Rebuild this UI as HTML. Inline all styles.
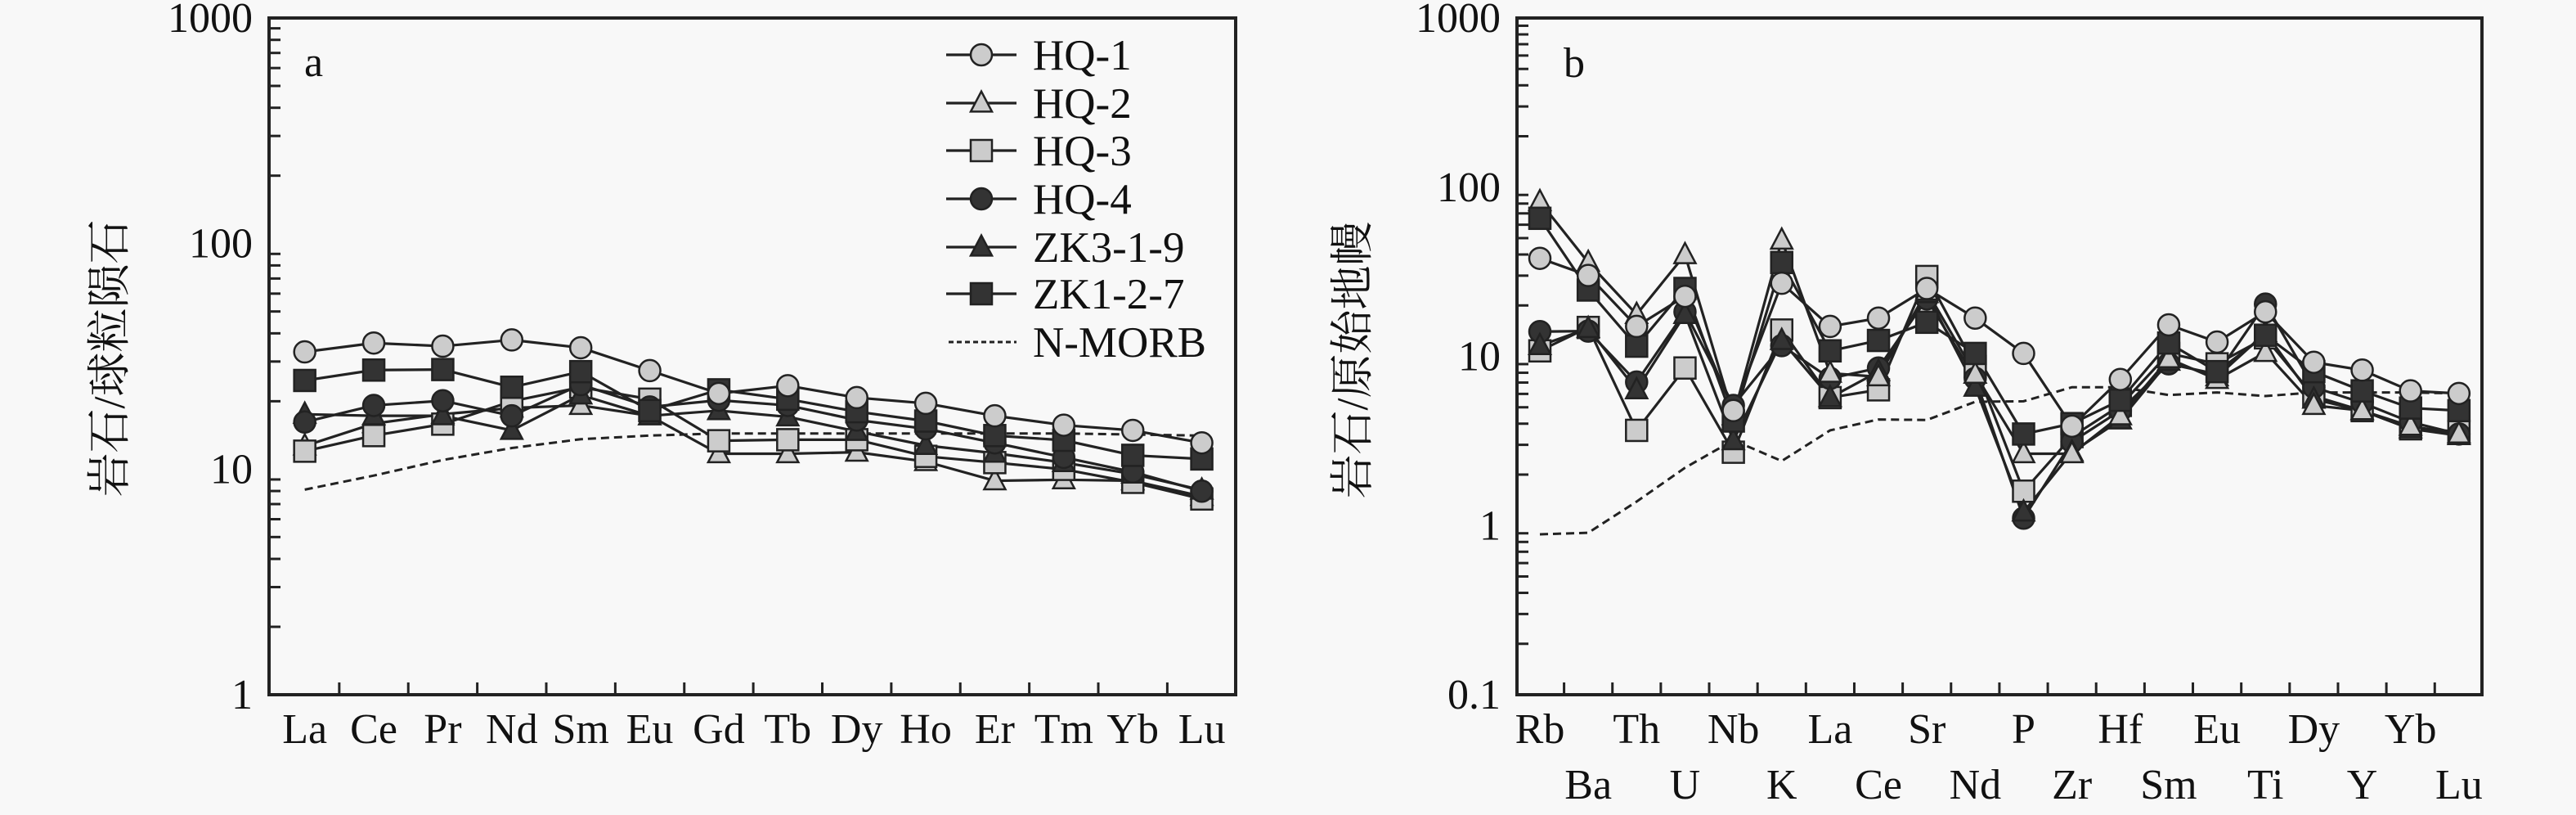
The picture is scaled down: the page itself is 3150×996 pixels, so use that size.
<!DOCTYPE html>
<html><head><meta charset="utf-8"><style>
html,body{margin:0;padding:0;background:#f8f8f8;}
svg{display:block;}
text{font-family:"Liberation Serif","Noto Serif CJK SC",serif;fill:#111;}
</style></head><body>
<svg id="s" width="3150" height="996" xmlns="http://www.w3.org/2000/svg"></svg>
<script>
var S=document.getElementById('s'),out='';
var fx=1.0045,fy=0.6352;
function mk(t,x,y,big){var r=13,st='stroke="#222" stroke-width="2.5"';
 if(t=='oc')return '<circle cx="'+x+'" cy="'+y+'" r="'+r+'" fill="#ccc" '+st+'/>';
 if(t=='bc')return '<circle cx="'+x+'" cy="'+y+'" r="'+r+'" fill="#333" '+st+'/>';
 if(t=='os')return '<rect x="'+(x-r)+'" y="'+(y-r)+'" width="'+2*r+'" height="'+2*r+'" fill="#ccc" '+st+'/>';
 if(t=='bs')return '<rect x="'+(x-r)+'" y="'+(y-r)+'" width="'+2*r+'" height="'+2*r+'" fill="#333" '+st+'/>';
 var p=(x-r)+','+(y+r*0.8)+' '+(x+r)+','+(y+r*0.8)+' '+x+','+(y-r*1.1);
 if(t=='ot')return '<polygon points="'+p+'" fill="#ccc" '+st+'/>';
 if(t=='bt')return '<polygon points="'+p+'" fill="#333" '+st+'/>';
}
function chart(o){
 var L=o.L,R=o.R,T=22,B=849,nd=o.nd;
 out+='<rect x="'+L+'" y="'+T+'" width="'+(R-L)+'" height="'+(B-T)+'" fill="none" stroke="#222" stroke-width="4"/>';
 var dec=(B-T)/nd;
 for(var d=0;d<nd;d++){for(var k=2;k<10;k++){var y=B-dec*(d+Math.log10(k));
  out+='<line x1="'+L+'" y1="'+y+'" x2="'+(L+14)+'" y2="'+y+'" stroke="#222" stroke-width="3"/>';}}
 for(var d=0;d<=nd;d++){var y=B-dec*d;out+='<text x="'+(L-20)+'" y="'+(y+17)+'" font-size="52" text-anchor="end">'+o.yl[d]+'</text>';}
 var xs=o.xs;
 for(var i=0;i<xs.length-1;i++){var x=(xs[i]+xs[i+1])/2;out+='<line x1="'+x+'" y1="'+B+'" x2="'+x+'" y2="'+(B-15)+'" stroke="#222" stroke-width="3"/>';}
 for(var i=0;i<xs.length;i++){var row=o.two?(i%2):0;out+='<text x="'+xs[i]+'" y="'+(908+row*68)+'" font-size="52" text-anchor="middle">'+o.lab[i]+'</text>';}
 var pts=o.nm.map(function(v,i){return xs[i]+','+(v*fy);}).join(' ');
 out+='<polyline points="'+pts+'" fill="none" stroke="#222" stroke-width="3" stroke-dasharray="10,6"/>';
 o.ser.forEach(function(s){var pts=s[1].map(function(v,i){return xs[i]+','+(v*fy);}).join(' ');
  out+='<polyline points="'+pts+'" fill="none" stroke="#222" stroke-width="3.2"/>';});
 o.ser.forEach(function(s){s[1].forEach(function(v,i){out+=mk(s[0],xs[i],v*fy);});});
}
var xa=[],xb=[];
for(var i=0;i<14;i++)xa.push((371+84*i)*fx);
for(var i=0;i<20;i++)xb.push(1883+59.15*i);
chart({L:329,R:1511,nd:3,yl:['1','10','100','1000'],xs:xa,
 lab:['La','Ce','Pr','Nd','Sm','Eu','Gd','Tb','Dy','Ho','Er','Tm','Yb','Lu'],
 nm:[942,915,885,862,845,838,834,834,834,834,834,834,836,838],
 ser:[
 ['ot',[858,815,797,785,780,800,873,873,870,888,925,923,925,955]],
 ['os',[868,838,816,772,745,768,848,846,846,878,890,903,928,960]],
 ['bt',[797,800,800,828,760,800,790,802,830,857,872,890,912,943]],
 ['bc',[812,780,771,800,740,783,770,780,808,825,852,880,908,945]],
 ['bs',[732,712,711,745,715,790,750,768,792,810,838,847,876,883]],
 ['oc',[677,660,666,654,669,713,757,742,765,776,800,818,828,852]]
 ]});
chart({L:1855,R:3035,nd:4,yl:['0.1','1','10','100','1000'],xs:xb,two:true,
 lab:['Rb','Ba','Th','U','Nb','K','La','Ce','Sr','Nd','P','Zr','Hf','Sm','Eu','Ti','Dy','Y','Yb','Lu'],
 nm:[1028,1025,965,900,847,887,828,807,808,773,772,745,745,760,755,762,755,755,755,757],
 ser:[
 ['os',[675,630,828,708,870,635,765,750,532,705,945,840,780,680,700,650,762,790,825,830]],
 ['bc',[638,637,735,600,780,665,728,708,575,728,997,850,790,700,720,585,745,775,812,835]],
 ['bt',[665,632,750,605,848,655,765,715,565,745,985,870,808,695,725,640,768,790,825,838]],
 ['ot',[388,505,605,490,800,462,718,725,560,720,873,873,800,690,730,678,780,790,820,835]],
 ['bs',[420,558,666,555,810,505,675,655,620,680,835,815,770,660,715,645,715,752,785,790]],
 ['oc',[497,530,628,570,790,545,628,612,555,612,680,820,730,625,658,600,697,712,752,757]]
 ]});
out+='<text x="372" y="93" font-size="52">a</text><text x="1912" y="94" font-size="52">b</text>';
out+='<text transform="translate(152,438) rotate(-90)" font-size="54" text-anchor="middle" fill="#333">岩石/球粒陨石</text>';
out+='<text transform="translate(1672,440) rotate(-90)" font-size="54" text-anchor="middle" fill="#333">岩石/原始地幔</text>';
var lg=[['oc','HQ-1'],['ot','HQ-2'],['os','HQ-3'],['bc','HQ-4'],['bt','ZK3-1-9'],['bs','ZK1-2-7']];
var ly=[67,126,184,243,302,359];
lg.forEach(function(l,i){var y=ly[i];out+='<line x1="1157" y1="'+y+'" x2="1243" y2="'+y+'" stroke="#222" stroke-width="3.2"/>'+mk(l[0],1200,y)+'<text x="1263" y="'+(y+18)+'" font-size="53">'+l[1]+'</text>';});
out+='<line x1="1160" y1="418" x2="1243" y2="418" stroke="#222" stroke-width="3" stroke-dasharray="6,4"/><text x="1263" y="436" font-size="53">N-MORB</text>';
S.innerHTML=out;
</script>
</body></html>
